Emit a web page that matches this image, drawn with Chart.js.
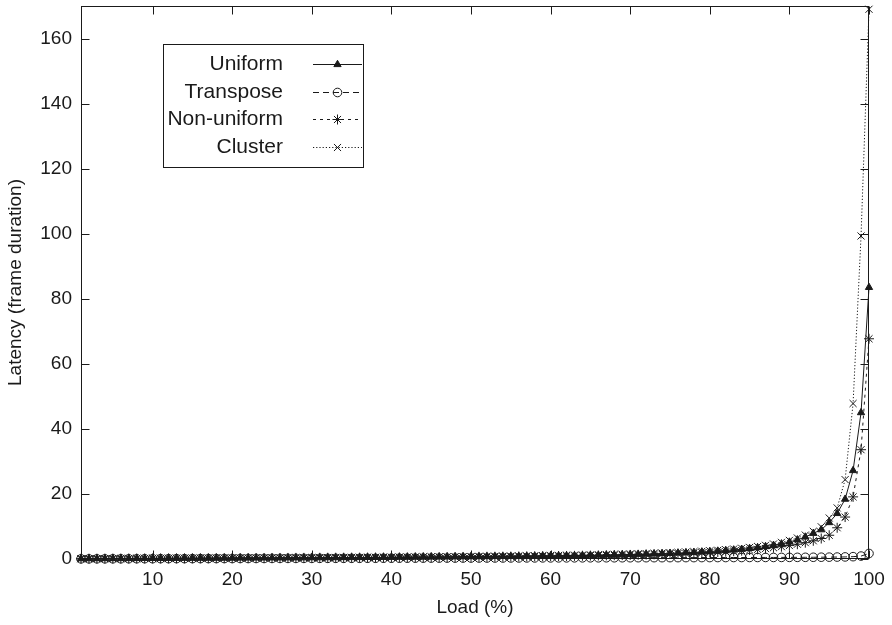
<!DOCTYPE html>
<html>
<head>
<meta charset="utf-8">
<script src="https://cdn.jsdelivr.net/npm/chart.js@4/dist/chart.umd.min.js"></script>
<style>
  html, body { margin: 0; padding: 0; background: #fff; }
  #wrap { width: 892px; height: 625px; }
</style>
</head>
<body>
<div id="wrap"><canvas id="c" width="892" height="625"></canvas></div>
<script>
// Offered load (%)
const loads = [
  1,2,3,4,5,6,7,8,9,10,11,12,13,14,15,16,17,18,19,20,
  21,22,23,24,25,26,27,28,29,30,31,32,33,34,35,36,37,38,39,40,
  41,42,43,44,45,46,47,48,49,50,51,52,53,54,55,56,57,58,59,60,
  61,62,63,64,65,66,67,68,69,70,71,72,73,74,75,76,77,78,79,80,
  81,82,83,84,85,86,87,88,89,90,91,92,93,94,95,96,97,98,99,100
];

// Mean latency in frame durations, one value per load step
const uniform = [
  0.10,0.11,0.12,0.13,0.14,0.15,0.16,0.17,0.18,0.19,
  0.20,0.21,0.22,0.23,0.24,0.25,0.26,0.27,0.28,0.29,
  0.30,0.31,0.32,0.33,0.34,0.35,0.36,0.37,0.38,0.40,
  0.41,0.42,0.43,0.45,0.46,0.47,0.49,0.50,0.52,0.53,
  0.55,0.56,0.58,0.60,0.61,0.63,0.65,0.67,0.69,0.71,
  0.73,0.75,0.78,0.80,0.83,0.85,0.88,0.91,0.94,0.97,
  1.00,1.04,1.07,1.11,1.15,1.19,1.24,1.29,1.34,1.40,
  1.46,1.52,1.59,1.67,1.75,1.84,1.94,2.05,2.17,2.30,
  2.45,2.61,2.80,3.01,3.25,3.52,3.84,4.22,4.67,5.22,
  5.90,6.77,7.90,9.00,11.2,14.0,18.4,27.2,45.0,83.5
];
const transpose = [
  0.05,0.05,0.06,0.06,0.07,0.07,0.08,0.08,0.09,0.09,
  0.10,0.10,0.11,0.11,0.12,0.12,0.13,0.13,0.14,0.14,
  0.15,0.15,0.16,0.16,0.17,0.17,0.18,0.18,0.19,0.19,
  0.20,0.20,0.21,0.21,0.22,0.22,0.23,0.23,0.24,0.24,
  0.25,0.25,0.26,0.26,0.27,0.27,0.28,0.28,0.29,0.29,
  0.30,0.30,0.31,0.31,0.32,0.32,0.33,0.33,0.34,0.34,
  0.35,0.35,0.36,0.36,0.37,0.37,0.38,0.38,0.39,0.39,
  0.40,0.40,0.41,0.41,0.42,0.42,0.43,0.43,0.44,0.44,
  0.45,0.45,0.46,0.46,0.47,0.47,0.48,0.48,0.49,0.50,
  0.51,0.52,0.53,0.55,0.57,0.60,0.64,0.72,0.90,1.70
];
const nonUniform = [
  0.09,0.10,0.11,0.12,0.13,0.14,0.15,0.16,0.17,0.18,
  0.18,0.19,0.20,0.21,0.22,0.23,0.24,0.25,0.26,0.26,
  0.27,0.28,0.29,0.30,0.31,0.32,0.33,0.34,0.35,0.36,
  0.37,0.38,0.39,0.40,0.41,0.42,0.44,0.45,0.46,0.48,
  0.49,0.51,0.52,0.54,0.55,0.57,0.58,0.60,0.62,0.64,
  0.66,0.68,0.70,0.72,0.74,0.77,0.79,0.82,0.85,0.87,
  0.90,0.93,0.97,1.00,1.04,1.07,1.11,1.16,1.20,1.25,
  1.30,1.36,1.42,1.48,1.55,1.62,1.70,1.79,1.89,2.00,
  2.12,2.25,2.40,2.56,2.75,2.96,3.20,3.47,3.78,4.13,
  4.54,5.02,5.60,6.30,7.30,9.60,12.9,19.1,33.6,67.7
];
const cluster = [
  0.11,0.12,0.13,0.14,0.15,0.17,0.18,0.19,0.20,0.21,
  0.22,0.23,0.24,0.25,0.26,0.28,0.29,0.30,0.31,0.32,
  0.33,0.34,0.35,0.36,0.38,0.39,0.40,0.41,0.42,0.44,
  0.45,0.46,0.48,0.49,0.51,0.52,0.54,0.55,0.57,0.59,
  0.60,0.62,0.64,0.66,0.68,0.70,0.72,0.74,0.76,0.78,
  0.81,0.83,0.86,0.89,0.91,0.94,0.97,1.01,1.04,1.08,
  1.11,1.15,1.19,1.23,1.28,1.33,1.38,1.43,1.49,1.55,
  1.61,1.68,1.76,1.84,1.93,2.03,2.13,2.25,2.38,2.53,
  2.69,2.87,3.07,3.30,3.56,3.86,4.21,4.62,5.12,5.72,
  6.45,7.35,8.50,9.90,12.6,15.7,24.4,47.8,99.3,169.0
];

const seriesNames = ['Uniform', 'Transpose', 'Non-uniform', 'Cluster'];
const xTickValues = [10, 20, 30, 40, 50, 60, 70, 80, 90, 100];
const yTickValues = [0, 20, 40, 60, 80, 100, 120, 140, 160];

const INK = '#1a1a1a';
const FONT = '"Liberation Sans", Arial, Helvetica, sans-serif';

function pts(ys) { return loads.map((x, i) => ({ x: x, y: ys[i] })); }

const datasets = [
  { label: seriesNames[0], data: pts(uniform), borderDash: [],
    pointStyle: 'triangle', pointRadius: 4.2, pointBackgroundColor: INK },
  { label: seriesNames[1], data: pts(transpose), borderDash: [6, 4],
    pointStyle: 'circle', pointRadius: 4.3, pointBackgroundColor: 'rgba(0,0,0,0)' },
  { label: seriesNames[2], data: pts(nonUniform), borderDash: [3, 4],
    pointStyle: 'star', pointRadius: 5, pointBackgroundColor: 'rgba(0,0,0,0)' },
  { label: seriesNames[3], data: pts(cluster), borderDash: [1.2, 2],
    pointStyle: 'crossRot', pointRadius: 5, pointBackgroundColor: 'rgba(0,0,0,0)' }
].map(d => Object.assign({
  borderColor: INK, borderWidth: 1, pointBorderColor: INK, pointBorderWidth: 1,
  pointHoverRadius: 0, tension: 0, fill: false, clip: false
}, d));

// Box frame, inward ticks on all four sides, and the inset key
const framePlugin = {
  id: 'frame',
  afterDraw(chart) {
    const { ctx, chartArea: a, scales } = chart;
    const L = Math.round(a.left) + 0.5, R = Math.round(a.right) - 0.5;
    const T = Math.round(a.top) + 0.5, B = Math.round(a.bottom) - 0.5;
    const tl = 8;
    ctx.save();
    ctx.strokeStyle = INK;
    ctx.lineWidth = 1;
    ctx.setLineDash([]);
    ctx.strokeRect(L, T, R - L, B - T);
    ctx.beginPath();
    xTickValues.forEach(v => {
      const x = Math.round(scales.x.getPixelForValue(v)) + 0.5;
      ctx.moveTo(x, B); ctx.lineTo(x, B - tl);
      ctx.moveTo(x, T); ctx.lineTo(x, T + tl);
    });
    yTickValues.forEach(v => {
      const y = Math.round(scales.y.getPixelForValue(v)) + 0.5;
      ctx.moveTo(L, y); ctx.lineTo(L + tl, y);
      ctx.moveTo(R, y); ctx.lineTo(R - tl, y);
    });
    ctx.stroke();

    // key
    const bx = 163.5, by = 44.5, bw = 200, bh = 123;
    ctx.fillStyle = '#fff';
    ctx.fillRect(bx, by, bw, bh);
    ctx.strokeRect(bx, by, bw, bh);
    ctx.font = '21px ' + FONT;
    ctx.textAlign = 'right';
    ctx.textBaseline = 'middle';
    chart.data.datasets.forEach((ds, i) => {
      const y = Math.round(64 + i * 27.7) + 0.5;
      ctx.fillStyle = INK;
      ctx.strokeStyle = INK;
      ctx.fillText(ds.label, 283, y);
      ctx.beginPath();
      ctx.setLineDash(ds.borderDash);
      ctx.lineWidth = 1;
      ctx.moveTo(313, y);
      ctx.lineTo(362, y);
      ctx.stroke();
      ctx.setLineDash([]);
      ctx.fillStyle = ds.pointBackgroundColor;
      Chart.helpers.drawPoint(ctx, {
        pointStyle: ds.pointStyle, radius: ds.pointRadius, rotation: 0, borderWidth: 1
      }, 337.5, y);
    });
    ctx.restore();
  }
};

new Chart(document.getElementById('c'), {
  type: 'line',
  data: { datasets: datasets },
  options: {
    responsive: false,
    devicePixelRatio: 1,
    animation: false,
    events: [],
    layout: { padding: { left: 0, right: 23, top: 4, bottom: 0 } },
    plugins: { legend: { display: false }, tooltip: { enabled: false } },
    scales: {
      x: {
        type: 'linear', min: 1, max: 100,
        afterBuildTicks: s => { s.ticks = xTickValues.map(v => ({ value: v })); },
        afterFit: s => { s.height = 66; s.paddingLeft = 0; s.paddingRight = 0; },
        grid: { display: false, drawTicks: false },
        border: { display: false },
        ticks: { color: INK, font: { family: FONT, size: 19 }, padding: 9, maxRotation: 0, autoSkip: false },
        title: { display: true, text: 'Load (%)', color: INK,
                 font: { family: FONT, size: 19 }, padding: { top: 0, bottom: 6 } }
      },
      y: {
        type: 'linear', min: 0, max: 170,
        afterBuildTicks: s => { s.ticks = yTickValues.map(v => ({ value: v })); },
        afterFit: s => { s.width = 81; s.paddingTop = 0; s.paddingBottom = 0; },
        grid: { display: false, drawTicks: false },
        border: { display: false },
        ticks: { color: INK, font: { family: FONT, size: 19 }, padding: 9, autoSkip: false },
        title: { display: true, text: 'Latency (frame duration)', color: INK,
                 font: { family: FONT, size: 19 }, padding: { top: 4, bottom: 0 } }
      }
    }
  },
  plugins: [framePlugin]
});
</script>
</body>
</html>
